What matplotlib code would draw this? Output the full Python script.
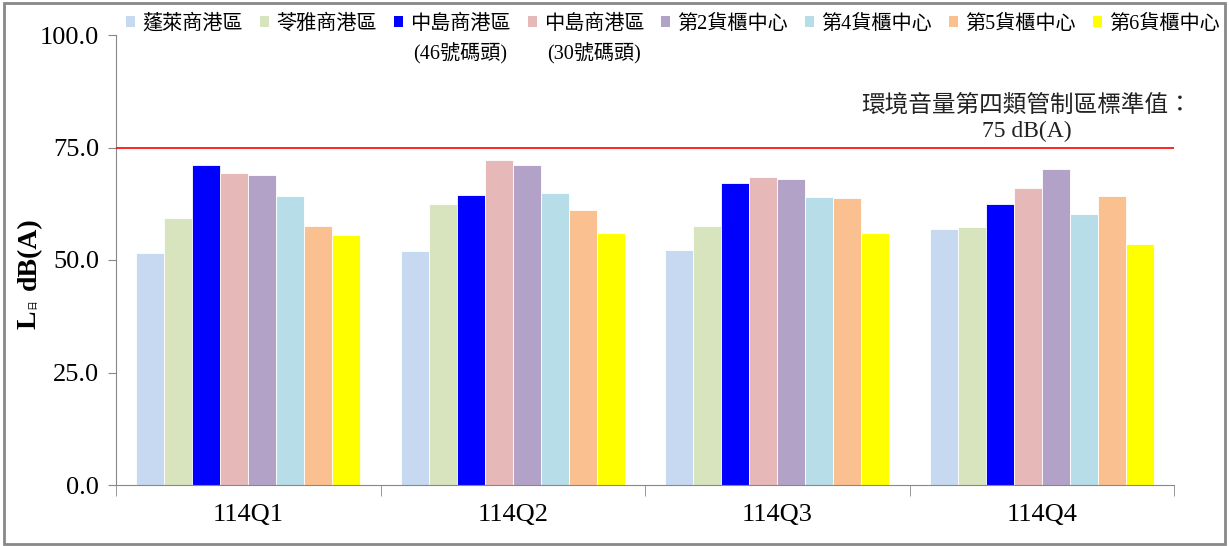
import numpy as np
import matplotlib.pyplot as plt
from matplotlib.patches import Rectangle, Patch

plt.rcParams['font.family'] = ['Liberation Serif', 'Noto Sans CJK TC']

quarters = ['114Q1', '114Q2', '114Q3', '114Q4']
sites = ['蓬萊商港區', '苓雅商港區', '中島商港區', '中島商港區',
         '第2貨櫃中心', '第4貨櫃中心', '第5貨櫃中心', '第6貨櫃中心']
site_notes = ['', '', '(46號碼頭)', '(30號碼頭)', '', '', '', '']
colors = ['#C6D9F0', '#D7E4BD', '#0000FF', '#E6B9B8',
          '#B2A2C7', '#B7DEE8', '#FAC090', '#FFFF00']

# L_day dB(A), one list per site, Q1..Q4
penglai = [51.6, 51.9, 52.3, 56.8]
lingya = [59.4, 62.5, 57.6, 57.4]
zhongdao46 = [71.1, 64.5, 67.1, 62.5]
zhongdao30 = [69.4, 72.2, 68.5, 66.0]
center2 = [68.8, 71.2, 67.9, 70.3]
center4 = [64.2, 64.8, 63.9, 60.2]
center5 = [57.6, 61.1, 63.7, 64.3]
center6 = [55.6, 55.9, 55.9, 53.5]
values = [penglai, lingya, zhongdao46, zhongdao30, center2, center4, center5, center6]

limit = 75
limit_text = '環境音量第四類管制區標準值：\n75 dB(A)'

fig = plt.figure(figsize=(12.29, 5.46), dpi=100)
ax = fig.add_axes([116 / 1229, 61 / 546, 1058 / 1229, 450 / 546])

x = np.arange(len(quarters))
w = 0.106
for i, vals in enumerate(values):
    ax.bar(x + (i - 3.5) * w, vals, w, color=colors[i], edgecolor='white', linewidth=0.6, zorder=2)

ax.axhline(limit, color='red', linewidth=1.2, zorder=3)
ax.text(2.944, limit + 6.6, limit_text, ha='center', va='center', fontsize=17,
        color='#222222', linespacing=1.25)

ax.set_xlim(-0.5, 3.5)
ax.set_ylim(0, 100)
ax.set_yticks(np.arange(0, 101, 25))
ax.set_yticklabels([f'{v:.1f}' for v in np.arange(0, 101, 25)])
ax.set_xticks(x)
ax.set_xticklabels(quarters)
ax.set_xticks(np.arange(-0.5, 4, 1), minor=True)
ax.tick_params(axis='x', which='major', length=0, pad=14, labelsize=19)
ax.tick_params(axis='x', which='minor', length=8, color='#888888', direction='out')
ax.tick_params(axis='y', length=6, color='#888888', labelsize=19, pad=6)
for s in ['top', 'right']:
    ax.spines[s].set_visible(False)
for s in ['left', 'bottom']:
    ax.spines[s].set_color('#888888')

# y label: L with subscript 日
fig.text(29 / 1229, 1 - 320 / 546, 'L', rotation=90, ha='center', va='center',
         fontsize=20, fontweight='bold')
fig.text(33 / 1229, 1 - 304 / 546, '日', rotation=90, ha='center', va='center', fontsize=7)
fig.text(29 / 1229, 1 - 254 / 546, 'dB(A)', rotation=90, ha='center', va='center',
         fontsize=20, fontweight='bold')

handles = [Patch(facecolor=c, edgecolor='none') for c in colors]
leg = fig.legend(handles, sites, loc='upper left', bbox_to_anchor=(126 / 1229, 1 - 14 / 546),
                 ncol=8, frameon=False, fontsize=14.5, handlelength=0.45, handleheight=0.45,
                 handletextpad=0.35, columnspacing=0.85, borderpad=0, borderaxespad=0)

fig.canvas.draw()
for t, note in zip(leg.get_texts(), site_notes):
    if note:
        bb = t.get_window_extent()
        fig.text((bb.x0 + bb.x1) / 2 / fig.bbox.width, ((bb.y0 + bb.y1) / 2 - 30) / fig.bbox.height,
                 note, ha='center', va='center', fontsize=14.5)

fig.patches.append(Rectangle((0.003, 0.004), 0.994, 0.99, transform=fig.transFigure,
                             fill=False, edgecolor='#888888', linewidth=2))

fig.savefig('out.png', dpi=100)
